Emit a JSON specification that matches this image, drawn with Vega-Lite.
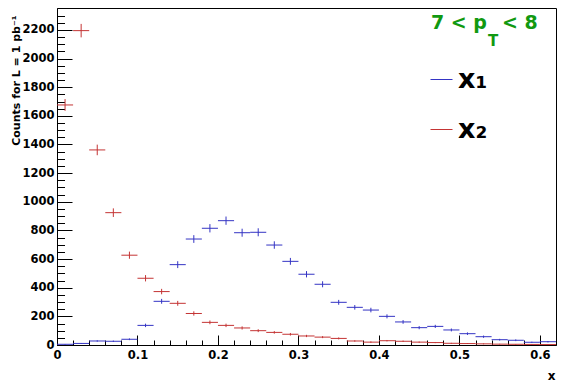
{
  "$schema": "https://vega.github.io/schema/vega-lite/v6.json",
  "width": 499,
  "height": 337,
  "autosize": {"type": "none"},
  "padding": {"left": 57, "top": 8, "right": 11, "bottom": 39},
  "background": "white",
  "config": {"view": {"stroke": "black", "strokeWidth": 1}, "font": "DejaVu Sans"},
  "datasets": {
    "h": [
      {"s":"x₁","a":0.00,"b":0.02,"m":0.01,"n":5,"e":2},
      {"s":"x₁","a":0.02,"b":0.04,"m":0.03,"n":11,"e":3},
      {"s":"x₁","a":0.04,"b":0.06,"m":0.05,"n":28,"e":5},
      {"s":"x₁","a":0.06,"b":0.08,"m":0.07,"n":26,"e":5},
      {"s":"x₁","a":0.08,"b":0.10,"m":0.09,"n":40,"e":6},
      {"s":"x₁","a":0.10,"b":0.12,"m":0.11,"n":137,"e":12},
      {"s":"x₁","a":0.12,"b":0.14,"m":0.13,"n":305,"e":17},
      {"s":"x₁","a":0.14,"b":0.16,"m":0.15,"n":561,"e":24},
      {"s":"x₁","a":0.16,"b":0.18,"m":0.17,"n":740,"e":27},
      {"s":"x₁","a":0.18,"b":0.20,"m":0.19,"n":815,"e":29},
      {"s":"x₁","a":0.20,"b":0.22,"m":0.21,"n":868,"e":29},
      {"s":"x₁","a":0.22,"b":0.24,"m":0.23,"n":784,"e":28},
      {"s":"x₁","a":0.24,"b":0.26,"m":0.25,"n":787,"e":28},
      {"s":"x₁","a":0.26,"b":0.28,"m":0.27,"n":698,"e":26},
      {"s":"x₁","a":0.28,"b":0.30,"m":0.29,"n":584,"e":24},
      {"s":"x₁","a":0.30,"b":0.32,"m":0.31,"n":494,"e":22},
      {"s":"x₁","a":0.32,"b":0.34,"m":0.33,"n":424,"e":21},
      {"s":"x₁","a":0.34,"b":0.36,"m":0.35,"n":298,"e":17},
      {"s":"x₁","a":0.36,"b":0.38,"m":0.37,"n":263,"e":16},
      {"s":"x₁","a":0.38,"b":0.40,"m":0.39,"n":244,"e":16},
      {"s":"x₁","a":0.40,"b":0.42,"m":0.41,"n":200,"e":14},
      {"s":"x₁","a":0.42,"b":0.44,"m":0.43,"n":161,"e":13},
      {"s":"x₁","a":0.44,"b":0.46,"m":0.45,"n":121,"e":11},
      {"s":"x₁","a":0.46,"b":0.48,"m":0.47,"n":130,"e":11},
      {"s":"x₁","a":0.48,"b":0.50,"m":0.49,"n":105,"e":10},
      {"s":"x₁","a":0.50,"b":0.52,"m":0.51,"n":79,"e":9},
      {"s":"x₁","a":0.52,"b":0.54,"m":0.53,"n":58,"e":8},
      {"s":"x₁","a":0.54,"b":0.56,"m":0.55,"n":37,"e":6},
      {"s":"x₁","a":0.56,"b":0.58,"m":0.57,"n":33,"e":6},
      {"s":"x₁","a":0.58,"b":0.60,"m":0.59,"n":19,"e":4},
      {"s":"x₁","a":0.60,"b":0.62,"m":0.61,"n":23,"e":5},
      {"s":"x₂","a":0.00,"b":0.02,"m":0.01,"n":1676,"e":41},
      {"s":"x₂","a":0.02,"b":0.04,"m":0.03,"n":2195,"e":47},
      {"s":"x₂","a":0.04,"b":0.06,"m":0.05,"n":1362,"e":37},
      {"s":"x₂","a":0.06,"b":0.08,"m":0.07,"n":924,"e":30},
      {"s":"x₂","a":0.08,"b":0.10,"m":0.09,"n":627,"e":25},
      {"s":"x₂","a":0.10,"b":0.12,"m":0.11,"n":466,"e":22},
      {"s":"x₂","a":0.12,"b":0.14,"m":0.13,"n":373,"e":19},
      {"s":"x₂","a":0.14,"b":0.16,"m":0.15,"n":291,"e":17},
      {"s":"x₂","a":0.16,"b":0.18,"m":0.17,"n":220,"e":15},
      {"s":"x₂","a":0.18,"b":0.20,"m":0.19,"n":158,"e":13},
      {"s":"x₂","a":0.20,"b":0.22,"m":0.21,"n":137,"e":12},
      {"s":"x₂","a":0.22,"b":0.24,"m":0.23,"n":119,"e":11},
      {"s":"x₂","a":0.24,"b":0.26,"m":0.25,"n":100,"e":10},
      {"s":"x₂","a":0.26,"b":0.28,"m":0.27,"n":88,"e":9},
      {"s":"x₂","a":0.28,"b":0.30,"m":0.29,"n":75,"e":9},
      {"s":"x₂","a":0.30,"b":0.32,"m":0.31,"n":63,"e":8},
      {"s":"x₂","a":0.32,"b":0.34,"m":0.33,"n":55,"e":7},
      {"s":"x₂","a":0.34,"b":0.36,"m":0.35,"n":46,"e":7},
      {"s":"x₂","a":0.36,"b":0.38,"m":0.37,"n":28,"e":5},
      {"s":"x₂","a":0.38,"b":0.40,"m":0.39,"n":20,"e":5},
      {"s":"x₂","a":0.40,"b":0.42,"m":0.41,"n":30,"e":5},
      {"s":"x₂","a":0.42,"b":0.44,"m":0.43,"n":26,"e":5},
      {"s":"x₂","a":0.44,"b":0.46,"m":0.45,"n":20,"e":4},
      {"s":"x₂","a":0.46,"b":0.48,"m":0.47,"n":17,"e":4},
      {"s":"x₂","a":0.48,"b":0.50,"m":0.49,"n":12,"e":3},
      {"s":"x₂","a":0.50,"b":0.52,"m":0.51,"n":10,"e":3},
      {"s":"x₂","a":0.52,"b":0.54,"m":0.53,"n":8,"e":3},
      {"s":"x₂","a":0.54,"b":0.56,"m":0.55,"n":6,"e":2},
      {"s":"x₂","a":0.56,"b":0.58,"m":0.57,"n":5,"e":2},
      {"s":"x₂","a":0.58,"b":0.60,"m":0.59,"n":4,"e":2},
      {"s":"x₂","a":0.60,"b":0.62,"m":0.61,"n":3,"e":2}
    ]
  },
  "resolve": {"axis": {"x": "independent", "y": "independent"}},
  "layer": [
    {
      "data": {"name": "h"},
      "mark": {"type": "rule", "strokeWidth": 1},
      "encoding": {
        "x": {
          "field": "a", "type": "quantitative", "title": "x",
          "scale": {"domain": [0, 0.62], "nice": false, "zero": false},
          "axis": {
            "orient": "bottom",
            "values": [0, 0.1, 0.2, 0.3, 0.4, 0.5, 0.6],
            "format": ".1~f", "grid": false,
            "tickSize": -10, "tickColor": "black", "tickWidth": 1,
            "domainColor": "black", "domainWidth": 1,
            "labelFont": "DejaVu Sans", "labelFontWeight": "bold", "labelFontSize": 11.5,
            "labelColor": "black", "labelPadding": 14, "labelFlush": false, "labelOverlap": false,
            "titleFont": "DejaVu Sans", "titleFontWeight": "bold", "titleFontSize": 12, "titleColor": "black",
            "titleX": 498, "titleY": 34.5, "titleAlign": "right", "titleBaseline": "alphabetic"
          }
        },
        "x2": {"field": "b"},
        "y": {
          "field": "n", "type": "quantitative", "title": "Counts for L = 1 pb⁻¹",
          "scale": {"domain": [0, 2353], "nice": false},
          "axis": {
            "orient": "left",
            "values": [0, 200, 400, 600, 800, 1000, 1200, 1400, 1600, 1800, 2000, 2200],
            "format": "d", "grid": false,
            "tickSize": -15, "tickColor": "black", "tickWidth": 1,
            "domainColor": "black", "domainWidth": 1,
            "labelFont": "DejaVu Sans", "labelFontWeight": "bold", "labelFontSize": 11.5,
            "labelColor": "black", "labelPadding": 18, "labelFlush": false, "labelOverlap": false,
            "titleFont": "DejaVu Sans", "titleFontWeight": "bold", "titleFontSize": 11, "titleColor": "black",
            "titleX": -38, "titleY": 7, "titleAngle": -90, "titleAlign": "right", "titleBaseline": "alphabetic"
          }
        },
        "color": {
          "field": "s", "type": "nominal",
          "scale": {"domain": ["x₁", "x₂"], "range": ["#3434c4", "#c43434"]},
          "legend": {
            "title": null, "orient": "none", "legendX": 371, "legendY": 58,
            "symbolType": "stroke", "symbolSize": 484, "symbolStrokeWidth": 1,
            "labelFont": "DejaVu Sans", "labelFontWeight": "bold", "labelFontSize": 27,
            "labelColor": "black", "labelOffset": 3, "rowPadding": 22, "padding": 0, "labelLimit": 0
          }
        }
      }
    },
    {
      "data": {"name": "h"},
      "mark": {"type": "errorbar", "thickness": 1},
      "encoding": {
        "x": {
          "field": "m", "type": "quantitative", "title": null,
          "axis": {
            "orient": "bottom",
            "values": [0.02, 0.04, 0.06, 0.08, 0.12, 0.14, 0.16, 0.18, 0.22, 0.24, 0.26, 0.28, 0.32, 0.34, 0.36, 0.38, 0.42, 0.44, 0.46, 0.48, 0.52, 0.54, 0.56, 0.58],
            "labels": false, "domain": false, "grid": false,
            "tickSize": -5, "tickColor": "black", "tickWidth": 1, "title": null
          }
        },
        "y": {
          "field": "n", "type": "quantitative", "title": null,
          "axis": {
            "orient": "left",
            "values": [50,100,150,250,300,350,450,500,550,650,700,750,850,900,950,1050,1100,1150,1250,1300,1350,1450,1500,1550,1650,1700,1750,1850,1900,1950,2050,2100,2150,2250,2300],
            "labels": false, "domain": false, "grid": false,
            "tickSize": -7.5, "tickColor": "black", "tickWidth": 1, "title": null
          }
        },
        "yError": {"field": "e"},
        "color": {"field": "s", "type": "nominal", "legend": null}
      }
    },
    {
      "data": {"values": [{"t": "7 < p"}]},
      "mark": {"type": "text", "align": "right", "baseline": "alphabetic", "font": "DejaVu Sans", "fontWeight": "bold", "fontSize": 19, "color": "#119911"},
      "encoding": {
        "text": {"field": "t"},
        "x": {"datum": 0.5342, "type": "quantitative", "axis": null},
        "y": {"datum": 2206, "type": "quantitative", "axis": null}
      }
    },
    {
      "data": {"values": [{"t": "T"}]},
      "mark": {"type": "text", "align": "left", "baseline": "alphabetic", "font": "DejaVu Sans", "fontWeight": "bold", "fontSize": 15, "color": "#119911", "dx": 1, "dy": 17},
      "encoding": {
        "text": {"field": "t"},
        "x": {"datum": 0.5342, "type": "quantitative", "axis": null},
        "y": {"datum": 2206, "type": "quantitative", "axis": null}
      }
    },
    {
      "data": {"values": [{"t": "< 8"}]},
      "mark": {"type": "text", "align": "left", "baseline": "alphabetic", "font": "DejaVu Sans", "fontWeight": "bold", "fontSize": 19, "color": "#119911", "dx": 15},
      "encoding": {
        "text": {"field": "t"},
        "x": {"datum": 0.5342, "type": "quantitative", "axis": null},
        "y": {"datum": 2206, "type": "quantitative", "axis": null}
      }
    }
  ]
}
